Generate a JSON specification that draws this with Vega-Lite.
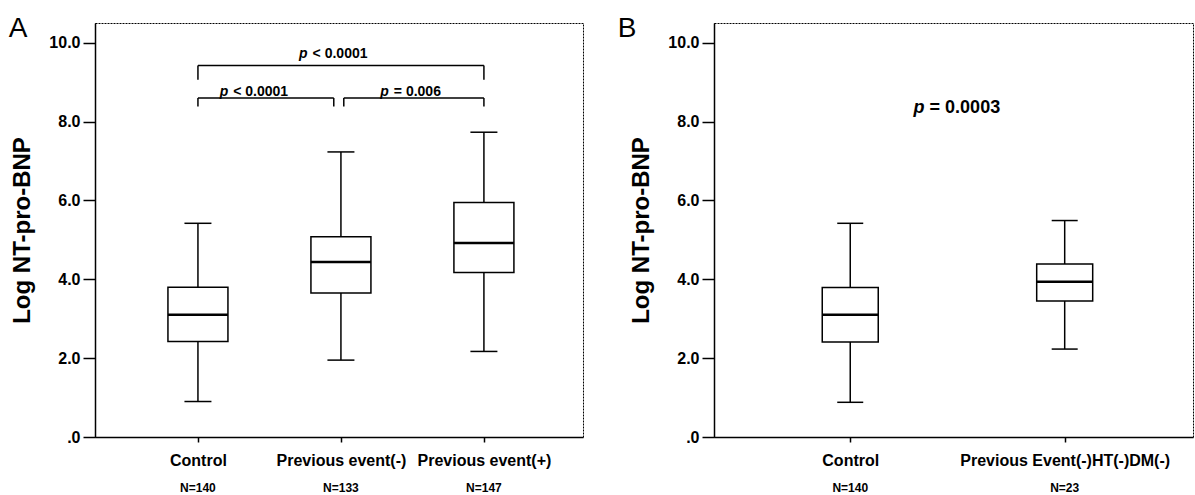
{
  "$schema": "https://vega.github.io/schema/vega-lite/v6.json",
  "background": "white",
  "padding": {"left": 8, "top": 14, "right": 0, "bottom": 0},
  "config": {
    "font": "Liberation Sans",
    "view": {"stroke": "black", "strokeWidth": 1, "strokeDash": [2, 1]},
    "concat": {"spacing": 33},
    "axis": {"grid": false, "domainColor": "black", "domainWidth": 1.5, "tickColor": "black", "tickWidth": 1.5, "labelColor": "black", "titleColor": "black", "labelFontWeight": "bold", "titleFontWeight": "bold", "labelLimit": 0}
  },
  "datasets": {
    "boxA": [
      {"pos": 0, "group": "Control", "nlabel": "N=140", "min": 0.90, "q1": 2.42, "median": 3.10, "q3": 3.80, "max": 5.42},
      {"pos": 1, "group": "Previous event(-)", "nlabel": "N=133", "min": 1.95, "q1": 3.65, "median": 4.44, "q3": 5.08, "max": 7.23},
      {"pos": 2, "group": "Previous event(+)", "nlabel": "N=147", "min": 2.17, "q1": 4.17, "median": 4.92, "q3": 5.95, "max": 7.73}
    ],
    "boxB": [
      {"pos": 0, "group": "Control", "nlabel": "N=140", "min": 0.88, "q1": 2.41, "median": 3.10, "q3": 3.79, "max": 5.42},
      {"pos": 1, "group": "Previous Event(-)HT(-)DM(-)", "nlabel": "N=23", "min": 2.23, "q1": 3.45, "median": 3.94, "q3": 4.39, "max": 5.49}
    ],
    "bracketsA": [
      {"x1": 0, "x2": 2, "y": 9.42, "yd": 9.06},
      {"x1": 0, "x2": 0.95, "y": 8.60, "yd": 8.38},
      {"x1": 1.02, "x2": 2, "y": 8.60, "yd": 8.38}
    ],
    "pA": [
      {"x": 0.781, "y": 9.6, "rest": "< 0.0001"},
      {"x": 0.226, "y": 8.66, "rest": "< 0.0001"},
      {"x": 1.349, "y": 8.66, "rest": "= 0.006"}
    ],
    "pB": [
      {"x": 0.356, "y": 8.21, "rest": "= 0.0003"}
    ]
  },
  "hconcat": [
    {
      "width": 488,
      "height": 414,
      "title": {"text": "A", "anchor": "start", "frame": "bounds", "fontSize": 28, "fontWeight": "normal", "color": "black", "offset": -20, "dx": -2},
      "layer": [
        {
          "data": {"name": "boxA"},
          "mark": {"type": "rule", "color": "black", "strokeWidth": 1.5},
          "encoding": {
            "x": {"field": "pos", "type": "quantitative", "scale": {"domain": [-0.685, 2.658], "nice": false, "zero": false},
              "axis": {"values": [0, 1, 2], "title": null, "labelExpr": "datum.value == 0 ? 'Control' : datum.value == 1 ? 'Previous event(-)' : 'Previous event(+)'", "labelFontSize": 16, "tickSize": 5, "labelPadding": 10, "labelFlush": false}},
            "y": {"field": "min", "type": "quantitative", "scale": {"domain": [0, 10.5], "nice": false},
              "axis": {"values": [0, 2, 4, 6, 8, 10], "labelExpr": "datum.value == 0 ? '.0' : format(datum.value, '.1f')", "title": "Log NT-pro-BNP", "titleFontSize": 24, "titlePadding": 14, "labelFontSize": 16, "tickSize": 12, "labelPadding": 3}},
            "y2": {"field": "max"}
          }
        },
        {
          "data": {"name": "boxA"},
          "mark": {"type": "bar", "orient": "vertical", "width": 60, "fill": "white", "stroke": "black", "strokeWidth": 1.5},
          "encoding": {
            "x": {"field": "pos", "type": "quantitative"},
            "y": {"field": "q1", "type": "quantitative"},
            "y2": {"field": "q3"}
          }
        },
        {
          "data": {"name": "boxA"},
          "mark": {"type": "tick", "orient": "horizontal", "size": 60, "thickness": 2.5, "color": "black", "opacity": 1},
          "encoding": {
            "x": {"field": "pos", "type": "quantitative"},
            "y": {"field": "median", "type": "quantitative"}
          }
        },
        {
          "data": {"name": "boxA"},
          "mark": {"type": "tick", "orient": "horizontal", "size": 27, "thickness": 1.5, "color": "black", "opacity": 1},
          "encoding": {
            "x": {"field": "pos", "type": "quantitative"},
            "y": {"field": "min", "type": "quantitative"}
          }
        },
        {
          "data": {"name": "boxA"},
          "mark": {"type": "tick", "orient": "horizontal", "size": 27, "thickness": 1.5, "color": "black", "opacity": 1},
          "encoding": {
            "x": {"field": "pos", "type": "quantitative"},
            "y": {"field": "max", "type": "quantitative"}
          }
        },
        {
          "data": {"name": "boxA"},
          "mark": {"type": "text", "fontSize": 12, "fontWeight": "bold", "color": "black", "dy": 55, "baseline": "alphabetic"},
          "encoding": {
            "x": {"field": "pos", "type": "quantitative"},
            "y": {"datum": 0},
            "text": {"field": "nlabel"}
          }
        },
        {
          "data": {"name": "bracketsA"},
          "mark": {"type": "rule", "color": "black", "strokeWidth": 1.5},
          "encoding": {
            "x": {"field": "x1", "type": "quantitative"},
            "x2": {"field": "x2"},
            "y": {"field": "y", "type": "quantitative"}
          }
        },
        {
          "data": {"name": "bracketsA"},
          "mark": {"type": "rule", "color": "black", "strokeWidth": 1.5},
          "encoding": {
            "x": {"field": "x1", "type": "quantitative"},
            "y": {"field": "y", "type": "quantitative"},
            "y2": {"field": "yd"}
          }
        },
        {
          "data": {"name": "bracketsA"},
          "mark": {"type": "rule", "color": "black", "strokeWidth": 1.5},
          "encoding": {
            "x": {"field": "x2", "type": "quantitative"},
            "y": {"field": "y", "type": "quantitative"},
            "y2": {"field": "yd"}
          }
        },
        {
          "data": {"name": "pA"},
          "mark": {"type": "text", "fontSize": 14, "fontWeight": "bold", "fontStyle": "italic", "color": "black", "align": "right", "baseline": "alphabetic", "dx": -2},
          "encoding": {
            "x": {"field": "x", "type": "quantitative"},
            "y": {"field": "y", "type": "quantitative"},
            "text": {"value": "p"}
          }
        },
        {
          "data": {"name": "pA"},
          "mark": {"type": "text", "fontSize": 14, "fontWeight": "bold", "color": "black", "align": "left", "baseline": "alphabetic", "dx": 3},
          "encoding": {
            "x": {"field": "x", "type": "quantitative"},
            "y": {"field": "y", "type": "quantitative"},
            "text": {"field": "rest"}
          }
        }
      ]
    },
    {
      "width": 479,
      "height": 414,
      "title": {"text": "B", "anchor": "start", "frame": "bounds", "fontSize": 28, "fontWeight": "normal", "color": "black", "offset": -20, "dx": -12},
      "layer": [
        {
          "data": {"name": "boxB"},
          "mark": {"type": "rule", "color": "black", "strokeWidth": 1.5},
          "encoding": {
            "x": {"field": "pos", "type": "quantitative", "scale": {"domain": [-0.612, 1.575], "nice": false, "zero": false},
              "axis": {"values": [0, 1], "title": null, "labelExpr": "datum.value == 0 ? 'Control' : 'Previous Event(-)HT(-)DM(-)'", "labelFontSize": 16, "tickSize": 5, "labelPadding": 10, "labelFlush": false}},
            "y": {"field": "min", "type": "quantitative", "scale": {"domain": [0, 10.5], "nice": false},
              "axis": {"values": [0, 2, 4, 6, 8, 10], "labelExpr": "datum.value == 0 ? '.0' : format(datum.value, '.1f')", "title": "Log NT-pro-BNP", "titleFontSize": 24, "titlePadding": 14, "labelFontSize": 16, "tickSize": 12, "labelPadding": 3}},
            "y2": {"field": "max"}
          }
        },
        {
          "data": {"name": "boxB"},
          "mark": {"type": "bar", "orient": "vertical", "width": 56, "fill": "white", "stroke": "black", "strokeWidth": 1.5},
          "encoding": {
            "x": {"field": "pos", "type": "quantitative"},
            "y": {"field": "q1", "type": "quantitative"},
            "y2": {"field": "q3"}
          }
        },
        {
          "data": {"name": "boxB"},
          "mark": {"type": "tick", "orient": "horizontal", "size": 56, "thickness": 2.5, "color": "black", "opacity": 1},
          "encoding": {
            "x": {"field": "pos", "type": "quantitative"},
            "y": {"field": "median", "type": "quantitative"}
          }
        },
        {
          "data": {"name": "boxB"},
          "mark": {"type": "tick", "orient": "horizontal", "size": 26, "thickness": 1.5, "color": "black", "opacity": 1},
          "encoding": {
            "x": {"field": "pos", "type": "quantitative"},
            "y": {"field": "min", "type": "quantitative"}
          }
        },
        {
          "data": {"name": "boxB"},
          "mark": {"type": "tick", "orient": "horizontal", "size": 26, "thickness": 1.5, "color": "black", "opacity": 1},
          "encoding": {
            "x": {"field": "pos", "type": "quantitative"},
            "y": {"field": "max", "type": "quantitative"}
          }
        },
        {
          "data": {"name": "boxB"},
          "mark": {"type": "text", "fontSize": 12, "fontWeight": "bold", "color": "black", "dy": 55, "baseline": "alphabetic"},
          "encoding": {
            "x": {"field": "pos", "type": "quantitative"},
            "y": {"datum": 0},
            "text": {"field": "nlabel"}
          }
        },
        {
          "data": {"name": "pB"},
          "mark": {"type": "text", "fontSize": 18, "fontWeight": "bold", "fontStyle": "italic", "color": "black", "align": "right", "baseline": "alphabetic", "dx": -2},
          "encoding": {
            "x": {"field": "x", "type": "quantitative"},
            "y": {"field": "y", "type": "quantitative"},
            "text": {"value": "p"}
          }
        },
        {
          "data": {"name": "pB"},
          "mark": {"type": "text", "fontSize": 18, "fontWeight": "bold", "color": "black", "align": "left", "baseline": "alphabetic", "dx": 3},
          "encoding": {
            "x": {"field": "x", "type": "quantitative"},
            "y": {"field": "y", "type": "quantitative"},
            "text": {"field": "rest"}
          }
        }
      ]
    }
  ]
}
